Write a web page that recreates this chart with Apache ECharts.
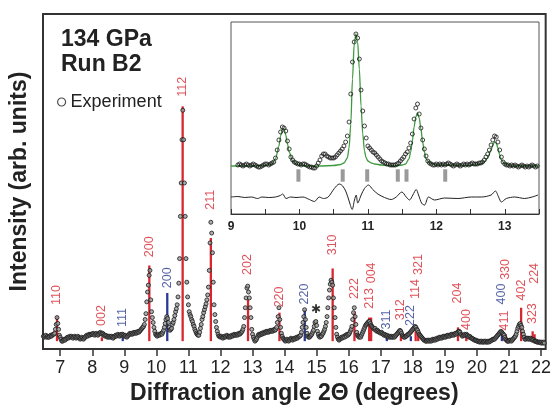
<!DOCTYPE html>
<html><head><meta charset="utf-8">
<script src="https://cdn.jsdelivr.net/npm/echarts@6/dist/echarts.min.js"></script>
<style>html,body{margin:0;padding:0;background:#fff}#c{width:554px;height:410px}</style>
</head><body><div id="c"></div>
<script>
// ---- main pattern: 2-theta scan (start, step) and intensities ----
const scanStart = 6.475;
const scanStep = 0.025;
const counts = [
 13,12,13,14,12,13,12,12,13,14,13,14,15,15,16,20,25,32,26,20,
 14,12,10,8,8,9,10,9,10,11,12,11,12,13,12,13,12,11,12,13,
 12,11,12,13,12,11,10,11,12,11,10,11,12,13,14,13,14,15,14,15,
 15,15,16,15,14,15,16,15,14,15,16,17,16,15,16,15,14,13,14,13,
 12,13,12,13,12,13,12,11,12,13,14,13,14,15,14,13,14,15,14,15,
 14,13,14,13,12,13,14,15,16,15,16,15,16,17,16,17,16,17,18,17,
 18,19,20,21,22,23,25,30,36,48,58,65,75,80,50,38,32,27,22,18,
 15,14,13,14,15,14,15,16,15,17,19,22,26,30,33,31,27,22,19,20,
 21,25,27,30,34,38,41,45,53,67,92,135,169,213,243,213,169,135,92,68,
 53,45,38,35,33,30,28,25,23,20,18,16,15,14,14,17,21,25,30,33,
 37,40,43,46,50,55,63,80,108,129,118,98,68,45,35,28,22,18,15,13,
 13,12,13,12,11,12,13,12,13,14,13,12,13,12,13,14,13,14,15,14,
 14,15,14,15,16,15,16,17,18,20,23,32,42,52,62,64,58,52,42,32,
 20,15,12,10,8,9,10,12,14,15,14,15,16,15,16,17,16,17,18,17,
 18,17,18,19,18,19,18,19,20,19,20,22,27,33,42,30,22,16,13,11,
 10,9,8,9,10,9,8,9,10,11,10,9,10,11,10,11,12,11,12,13,
 13,14,17,22,27,33,40,30,22,16,13,12,12,13,14,15,17,19,23,27,
 28,24,18,15,13,12,13,13,15,16,18,20,23,27,33,42,52,60,66,70,
 68,65,52,42,32,22,15,12,10,9,10,11,12,11,12,13,12,14,13,15,
 14,15,16,18,20,23,30,37,42,33,25,17,14,13,12,13,12,14,16,18,
 20,22,24,25,26,27,28,28,26,24,23,22,21,20,21,19,18,19,18,17,
 17,16,17,16,15,14,15,14,13,14,13,12,13,12,13,12,12,13,12,13,
 14,15,16,17,18,19,18,16,14,13,12,12,13,13,14,15,15,16,17,18,
 19,20,21,22,23,22,20,19,17,15,14,13,12,11,10,9,9,8,8,9,
 8,9,8,9,8,9,10,9,10,9,10,11,10,11,12,11,12,11,12,13,
 12,13,12,13,14,13,14,13,14,15,14,15,14,15,16,15,16,17,18,18,
 17,15,14,13,14,14,15,14,15,14,13,12,13,12,11,11,10,10,9,9,
 9,8,8,8,7,8,7,8,7,7,8,7,8,7,7,8,7,8,8,9,
 9,10,10,10,11,12,13,14,15,16,17,18,17,16,15,14,12,10,9,8,
 8,8,9,9,8,9,10,11,12,13,15,18,21,23,25,26,24,22,18,15,
 12,10,10,11,11,10,11,10,11,10,9,10,9,8,8,8,7,7,7,7,
 7,6,7,6,7,6
];

// ---- reflection markers ----
const redHkl   = ['110','002','200','112','211','202','220','310','222','213','004','312','114','321','204','400','411','330','402','323','224'];
const redAngle = [6.90,8.30,9.78,10.82,11.70,12.86,13.84,15.50,16.18,16.64,16.70,17.63,18.09,18.17,19.41,19.67,20.86,20.90,21.38,21.74,21.80];
const redHeight = [33,12,85,247,113,50,37,82,38,32,32,20,18,20,22,13,13,15,42,18,15];
const redLabelLevel = [55,34,104,267,152,86,53,106,61.5,51.5,77.5,40,61,86,57,30,29,81,60,36,77];

const blueHkl   = ['111','200','220','311','222','400'];
const blueAngle = [8.95,10.34,14.63,17.19,17.94,20.78];
const blueHeight = [12,57,40,13,13,15];
const blueLabelLevel = [32,72.5,56,30,34,56];

const markerBase = 8;
const starAngle = 14.98, starLevel = 40;

const xTicks = [7,8,9,10,11,12,13,14,15,16,17,18,19,20,21,22];

// ---- inset: observed, fit, difference, reflection ticks ----
const insetStart = 9.1;
const insetStep = 0.025;
const insetCounts = [
 49,50,49,48,49,50,49,48,49,50,49,48,47,47,48,49,50,50,49,50,
 51,52,56,64,74,82,87,86,83,73,65,57,54,52,51,50,50,49,50,50,
 49,48,47,47,46,46,48,51,54,58,60,60,58,57,56,56,56,57,59,61,
 63,65,68,72,78,92,120,152,172,180,176,155,124,103,88,76,68,66,64,62,
 61,59,57,55,53,52,51,50,50,49,49,49,49,50,51,53,55,57,60,62,
 66,71,80,95,106,110,100,86,74,65,58,53,51,50,49,49,50,49,50,49,
 50,49,50,51,50,49,48,49,50,49,48,49,50,49,50,49,50,51,50,50,
 50,51,51,52,54,57,60,64,69,74,78,77,72,64,57,52,50,49,49,48,
 49,48,49,48,47,48,49,48,47,48,47,48,49,48,47,48
];
const insetFit = [[9.0,48],[9.3,48],[9.5,48.5],[9.6,50],[9.65,55],[9.7,68],[9.725,78],[9.75,85],[9.775,85],[9.8,79],[9.825,70],[9.85,62],[9.9,53],[9.95,50],[10.0,49],[10.1,48],[10.3,48],[10.5,48.5],[10.6,49.5],[10.65,51],[10.7,56],[10.725,66],[10.75,90],[10.775,135],[10.8,170],[10.825,180],[10.85,172],[10.875,145],[10.9,108],[10.925,80],[10.95,63],[10.975,56],[11.0,53],[11.05,51],[11.1,50],[11.2,49],[11.4,48],[11.5,49],[11.55,50],[11.6,55],[11.625,62],[11.65,73],[11.675,87],[11.7,97],[11.725,101],[11.75,96],[11.775,85],[11.8,72],[11.825,62],[11.85,55],[11.9,51],[12.0,49],[12.5,48.5],[12.65,50],[12.7,52],[12.75,56],[12.8,64],[12.825,69],[12.85,72],[12.875,71],[12.9,66],[12.925,59],[12.95,54],[13.0,50],[13.1,48],[13.5,48]];
const insetDiff = [[9.0,17],[9.1,17.5],[9.2,16.5],[9.3,17],[9.39,15.5],[9.45,17],[9.55,16.5],[9.65,17],[9.72,18.5],[9.755,20],[9.805,15.5],[9.87,17],[9.95,16.5],[10.05,17],[10.145,14.5],[10.218,12.5],[10.29,17],[10.35,15.5],[10.42,17],[10.51,25.5],[10.583,30],[10.632,28],[10.682,22],[10.73,12],[10.77,4.5],[10.804,14],[10.829,19],[10.852,11],[10.902,19],[10.95,25.5],[11.008,29],[11.071,24.5],[11.145,20],[11.243,16.5],[11.34,14.5],[11.414,17],[11.496,22],[11.56,17],[11.608,14],[11.657,19],[11.706,24.5],[11.74,19],[11.788,10.5],[11.828,9],[11.886,17],[11.974,14],[12.12,16],[12.315,15.5],[12.51,17],[12.657,17],[12.8,19],[12.862,23],[12.91,17],[12.95,12],[13.023,15.5],[13.144,17],[13.29,15.5],[13.4,17],[13.485,19]];
const insetTickAngles = [9.985,10.632,10.99,11.437,11.564,12.13];
const insetTickLow = 32.3, insetTickHigh = 44.7;

const RED = '#d7262f', BLUE = '#2b3990', INK = '#161616', DOTFILL = '#9a9a9a';
const FONT = 'Liberation Sans, Arial, Helvetica, sans-serif';

const mainData = counts.map((v, i) => [+(scanStart + i * scanStep).toFixed(4), v]);
const insetData = insetCounts.map((v, i) => [+(insetStart + i * insetStep).toFixed(4), v]);

function barSeries(angles, heights, color) {
  return {
    type: 'custom', xAxisIndex: 0, yAxisIndex: 0, z: 2, silent: true,
    data: angles.map((a, i) => [a, heights[i]]),
    renderItem: function (params, api) {
      const p0 = api.coord([api.value(0), markerBase]);
      const p1 = api.coord([api.value(0), api.value(1)]);
      return { type: 'line', shape: { x1: p0[0], y1: p0[1], x2: p1[0], y2: p1[1] },
               style: { stroke: color, lineWidth: 2.3 } };
    }
  };
}
function labelSeries(angles, levels, names, color) {
  return {
    type: 'scatter', xAxisIndex: 0, yAxisIndex: 0, z: 10, zlevel: 1, silent: true,
    symbolSize: 0,
    data: angles.map((a, i) => ({ value: [a, levels[i]], name: names[i] })),
    label: { show: true, position: 'inside', rotate: 90, formatter: '{b}',
             color: color, fontSize: 12.5, fontFamily: FONT, textBorderWidth: 0 }
  };
}

const chart = echarts.init(document.getElementById('c'), null, { renderer: 'canvas' });
chart.setOption({
  animation: false,
  backgroundColor: '#fff',
  textStyle: { fontFamily: FONT },
  title: {
    text: '134 GPa\nRun B2', left: 61, top: 27, padding: 0,
    textStyle: { fontSize: 23, fontWeight: 'bold', color: '#222', lineHeight: 25, fontFamily: FONT }
  },
  legend: {
    left: 57, top: 93, padding: 0, itemWidth: 8, itemHeight: 8, itemGap: 4,
    textStyle: { fontSize: 18, color: '#222', fontFamily: FONT },
    data: [{ name: 'Experiment', icon: 'circle',
             itemStyle: { color: '#fff', borderColor: '#222', borderWidth: 1.2 } }]
  },
  grid: [
    { left: 43, top: 14, right: 6, bottom: 55, show: true, borderColor: '#333', borderWidth: 2, backgroundColor: 'transparent' },
    { left: 231, top: 22, width: 308, height: 192, show: true, borderColor: '#555', borderWidth: 1, backgroundColor: '#fff' }
  ],
  xAxis: [
    { type: 'value', gridIndex: 0, min: 6.463, max: 22.146,
      axisLine: { show: false }, splitLine: { show: false },
      axisTick: { show: true, customValues: xTicks, length: 7, inside: false, lineStyle: { color: '#333', width: 1.5 } },
      axisLabel: { customValues: xTicks, fontSize: 18, color: '#222', margin: 10, fontFamily: FONT },
      name: 'Diffraction angle 2\u0398 (degrees)', nameLocation: 'middle', nameGap: 33,
      nameTextStyle: { fontSize: 23, fontWeight: 'bold', color: '#222', fontFamily: FONT } },
    { type: 'value', gridIndex: 1, min: 9, max: 13.5, interval: 0.5,
      axisLine: { show: true, lineStyle: { color: '#333', width: 1.2 } }, splitLine: { show: false },
      axisTick: { show: true, inside: true, length: 5, lineStyle: { color: '#333', width: 1 } },
      axisLabel: { interval: 0, margin: 7, fontSize: 12, fontWeight: 'bold', color: '#222', fontFamily: FONT,
                   formatter: v => (Math.abs(v - Math.round(v)) < 1e-6 ? String(Math.round(v)) : '') } }
  ],
  yAxis: [
    { type: 'value', gridIndex: 0, min: 0, max: 341,
      axisLine: { show: false }, axisTick: { show: false }, axisLabel: { show: false }, splitLine: { show: false },
      name: 'Intensity (arb. units)', nameLocation: 'middle', nameGap: 12,
      nameTextStyle: { fontSize: 23, fontWeight: 'bold', color: '#222', fontFamily: FONT } },
    { type: 'value', gridIndex: 1, min: 0, max: 192, show: false }
  ],
  series: [
    barSeries(redAngle, redHeight, RED),
    barSeries(blueAngle, blueHeight, BLUE),
    { name: 'Experiment', type: 'scatter', xAxisIndex: 0, yAxisIndex: 0, z: 3, silent: true,
      data: mainData, symbol: 'circle', symbolSize: 4,
      itemStyle: { color: DOTFILL, borderColor: INK, borderWidth: 1 } },
    labelSeries(redAngle, redLabelLevel, redHkl, RED),
    labelSeries(blueAngle, blueLabelLevel, blueHkl, BLUE),
    { type: 'scatter', xAxisIndex: 0, yAxisIndex: 0, z: 10, zlevel: 1, silent: true, symbolSize: 0,
      data: [[starAngle, starLevel]],
      label: { show: true, position: 'inside', formatter: '\u2731', fontSize: 12, color: '#000', fontFamily: 'DejaVu Sans', textBorderWidth: 0 } },
    // inset
    { type: 'custom', xAxisIndex: 1, yAxisIndex: 1, z: 2, silent: true,
      data: insetTickAngles.map(a => [a, insetTickHigh]),
      renderItem: function (params, api) {
        const p1 = api.coord([api.value(0), insetTickHigh]);
        const p0 = api.coord([api.value(0), insetTickLow]);
        return { type: 'rect', shape: { x: p1[0] - 2, y: p1[1], width: 4, height: p0[1] - p1[1] },
                 style: { fill: '#9a9a9a' } };
      } },
    { type: 'line', xAxisIndex: 1, yAxisIndex: 1, z: 2, silent: true, data: insetFit,
      showSymbol: false, smooth: 0.3, smoothMonotone: 'x', lineStyle: { color: '#3f9a3f', width: 1.3 } },
    { type: 'line', xAxisIndex: 1, yAxisIndex: 1, z: 2, silent: true, data: insetDiff,
      showSymbol: false, smooth: 0.3, lineStyle: { color: '#222', width: 1 } },
    { type: 'scatter', xAxisIndex: 1, yAxisIndex: 1, z: 3, silent: true,
      data: insetData, symbol: 'circle', symbolSize: 4,
      itemStyle: { color: 'rgba(0,0,0,0)', borderColor: INK, borderWidth: 1 } }
  ]
});
</script></body></html>
